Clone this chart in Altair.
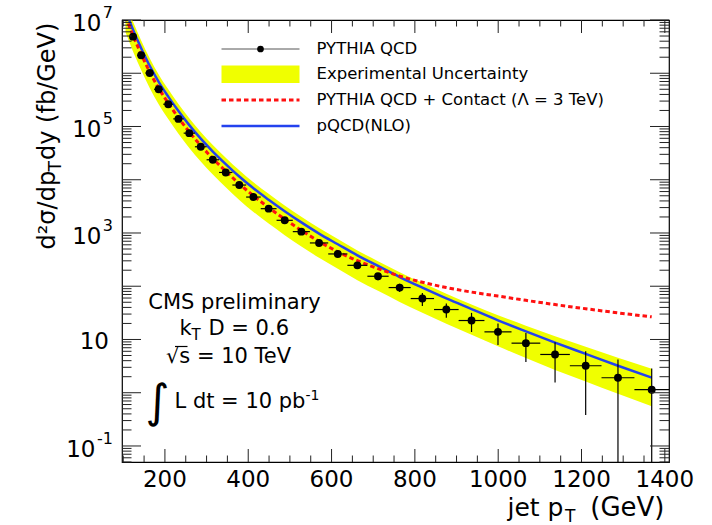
import altair as alt
import numpy as np
import pandas as pd

FONT = "DejaVu Sans"
YELLOW = "#f0ff00"
RED = "#ff1010"
BLUE = "#2442ee"

# Jet pT bins (GeV) and bin centres
bin_lo = [97, 114, 133, 153, 174, 196, 220, 245, 272, 300, 330, 362, 395, 430, 468,
          507, 548, 592, 638, 686, 737, 790, 846, 905, 967, 1032, 1101, 1172, 1248, 1327]
bin_hi = [114, 133, 153, 174, 196, 220, 245, 272, 300, 330, 362, 395, 430, 468, 507,
          548, 592, 638, 686, 737, 790, 846, 905, 967, 1032, 1101, 1172, 1248, 1327, 1410]
pt = [105.5, 123.5, 143, 163.5, 185, 208, 232.5, 258.5, 286, 315, 346, 378.5, 412.5, 449,
      487.5, 527.5, 570, 615, 662, 711.5, 763.5, 818, 875.5, 936, 999.5, 1066.5, 1136.5,
      1210, 1287.5, 1368.5]

# PYTHIA QCD cross section (fb/GeV) with statistical errors
pythia = [1.12e7, 4.87e6, 2.18e6, 1.01e6, 5.0e5, 2.62e5, 1.39e5, 7.5e4, 4.16e4, 2.37e4,
          1.37e4, 7.95e3, 4.73e3, 2.86e3, 1.73e3, 1.06e3, 650, 404, 247, 154,
          94.4, 58.7, 36.5, 22.7, 13.9, 8.53, 5.23, 3.21, 1.91, 1.14]
pythia_err = [2.2e5, 9.7e4, 4.4e4, 2.0e4, 1.0e4, 5.2e3, 2.8e3, 1.5e3, 830, 470,
              270, 200, 140, 110, 80, 60, 45, 32, 22, 24,
              16.6, 16, 10.8, 8.9, 6.0, 4.77, 3.67, 2.83, 2.29, 1.72]

# Experimental uncertainty band
band_hi = [2.13e7, 9.25e6, 4.14e6, 1.92e6, 9.5e5, 4.98e5, 2.64e5, 1.43e5, 7.9e4, 4.5e4,
           2.6e4, 1.51e4, 8.99e3, 5.43e3, 3.29e3, 2.01e3, 1.24e3, 768, 469, 296,
           184, 116, 72.6, 45.6, 28.6, 18.2, 11.5, 7.32, 4.53, 2.82]
band_lo = [5.9e6, 2.56e6, 1.15e6, 5.3e5, 2.63e5, 1.38e5, 7.3e4, 3.95e4, 2.19e4, 1.25e4,
           7.2e3, 4.18e3, 2.49e3, 1.5e3, 910, 558, 342, 213, 130, 82,
           50.8, 31.7, 19.8, 12.3, 7.43, 4.47, 2.68, 1.62, 0.955, 0.56]

# PYTHIA QCD + contact interaction (Lambda = 3 TeV)
contact = [1.17e7, 5.1e6, 2.29e6, 1.06e6, 5.25e5, 2.75e5, 1.46e5, 7.9e4, 4.4e4, 2.5e4,
           1.45e4, 8.4e3, 5.0e3, 3.0e3, 1.82e3, 1.12e3, 695, 444, 302, 214,
           155, 119, 94.4, 77.6, 65.3, 54.3, 45.2, 37.8, 31.6, 26.6]

# NLO pQCD prediction
nlo = [1.5e7, 6.57e6, 2.96e6, 1.38e6, 6.9e5, 3.64e5, 1.95e5, 1.06e5, 5.9e4, 3.39e4,
       1.97e4, 1.15e4, 6.9e3, 4.2e3, 2.56e3, 1.58e3, 975, 614, 380, 240,
       149, 94, 59, 37.2, 22.9, 14.2, 8.73, 5.36, 3.21, 1.92]

# Axis ticks
x_major = [200, 400, 600, 800, 1000, 1200, 1400]
x_minor = [100, 150, 250, 300, 350, 450, 500, 550, 650, 700, 750, 850, 900, 950,
           1050, 1100, 1150, 1250, 1300, 1350]
y_decades = [0.1, 1, 10, 100, 1e3, 1e4, 1e5, 1e6, 1e7]
y_labels = [1e7, 1e5, 1e3, 10, 0.1]
y_label_exp = ["7", "5", "3", "", "-1"]

Y_MIN, Y_MAX = 0.05, 1e7
W, H = 547, 442

y_minor = [m * 10.0 ** k for k in range(-2, 7) for m in range(2, 10)
           if Y_MIN <= m * 10.0 ** k <= Y_MAX]

xs = alt.Scale(domain=[97, 1410], nice=False, zero=False)
ys = alt.Scale(type="log", domain=[Y_MIN, Y_MAX], nice=False)


def X(field):
    return alt.X(field, type="quantitative", scale=xs, axis=None)


def Y(field):
    return alt.Y(field, type="quantitative", scale=ys, axis=None)


df = pd.DataFrame({
    "pt": pt, "lo": bin_lo, "hi": bin_hi,
    "pythia": pythia, "err": pythia_err,
    "band_lo": band_lo, "band_hi": band_hi,
    "contact": contact, "nlo": nlo,
})
df["y_top"] = df["pythia"] + df["err"]
df["y_bot"] = np.maximum(df["pythia"] - df["err"], Y_MIN)

one = pd.DataFrame({"k": [0]})

layers = []

# uncertainty band and curves
layers.append(alt.Chart(df).mark_area(color=YELLOW, opacity=1, clip=True, interpolate="monotone")
              .encode(x=X("pt"), y=Y("band_lo"), y2=alt.Y2("band_hi")))
layers.append(alt.Chart(df).mark_line(color=BLUE, strokeWidth=2.5, clip=True, interpolate="monotone")
              .encode(x=X("pt"), y=Y("nlo")))
layers.append(alt.Chart(df).mark_line(color=RED, strokeWidth=3, strokeDash=[4.5, 3], clip=True,
                                      interpolate="monotone")
              .encode(x=X("pt"), y=Y("contact")))

# PYTHIA points with error bars
layers.append(alt.Chart(df).mark_rule(color="black", strokeWidth=1.2, clip=True)
              .encode(x=X("pt"), y=Y("y_bot"), y2=alt.Y2("y_top")))
layers.append(alt.Chart(df).mark_rule(color="black", strokeWidth=1.2, clip=True)
              .encode(x=X("lo"), x2=alt.X2("hi"), y=Y("pythia")))
layers.append(alt.Chart(df).mark_circle(color="black", size=62, opacity=1, clip=True)
              .encode(x=X("pt"), y=Y("pythia")))

# inward ticks on all four sides
TICK = "#222222"
xmaj = pd.DataFrame({"t": x_major})
xmin = pd.DataFrame({"t": x_minor})
for d, ln in ((xmaj, 13), (xmin, 6.5)):
    layers.append(alt.Chart(d).mark_rule(color=TICK, strokeWidth=1)
                  .encode(x=X("t"), y=alt.value(H), y2=alt.value(H - ln)))
    layers.append(alt.Chart(d).mark_rule(color=TICK, strokeWidth=1)
                  .encode(x=X("t"), y=alt.value(0), y2=alt.value(ln)))
ymaj = pd.DataFrame({"t": y_decades})
ymin = pd.DataFrame({"t": y_minor})
for d, ln in ((ymaj, 19), (ymin, 9.5)):
    layers.append(alt.Chart(d).mark_rule(color=TICK, strokeWidth=1)
                  .encode(y=Y("t"), x=alt.value(0), x2=alt.value(ln)))
    layers.append(alt.Chart(d).mark_rule(color=TICK, strokeWidth=1)
                  .encode(y=Y("t"), x=alt.value(W), x2=alt.value(W - ln)))

# x tick labels
xl = pd.DataFrame({"t": x_major, "s": [str(v) for v in x_major]})
layers.append(alt.Chart(xl).mark_text(font=FONT, fontSize=23, align="center", baseline="alphabetic",
                                      color="black")
              .encode(x=X("t"), y=alt.value(467), text="s:N"))

# y tick labels: "10" with a raised exponent
for val, ex in zip(y_labels, y_label_exp):
    d = pd.DataFrame({"t": [val]})
    if ex:
        ex_w = 10.5 if len(ex) == 1 else 16.5
        layers.append(alt.Chart(d).mark_text(text=ex, font=FONT, fontSize=16, align="right",
                                             baseline="middle", dy=-7, color="black")
                      .encode(y=Y("t"), x=alt.value(-9)))
        layers.append(alt.Chart(d).mark_text(text="10", font=FONT, fontSize=23, align="right",
                                             baseline="middle", dy=4, color="black")
                      .encode(y=Y("t"), x=alt.value(-10 - ex_w)))
    else:
        layers.append(alt.Chart(d).mark_text(text="10", font=FONT, fontSize=23, align="right",
                                             baseline="middle", dy=3, color="black")
                      .encode(y=Y("t"), x=alt.value(-13)))


def label(text, x, y, size, align="left", baseline="alphabetic", angle=0):
    return (alt.Chart(one)
            .mark_text(text=text, font=FONT, fontSize=size, align=align, baseline=baseline,
                       angle=angle, color="black")
            .encode(x=alt.value(x), y=alt.value(y)))


# axis titles
layers.append(label("jet p", 441.5, 496, 25, align="right"))
layers.append(label("T", 443, 502, 17))
layers.append(label("(GeV)", 542.5, 496, 26, align="right"))

layers.append(label("d\u00b2\u03c3/dp", -67.5, 229.5, 24, angle=270))
layers.append(label("T", -61.5, 151.5, 17, angle=270))
layers.append(label(" dy (fb/GeV)", -67.5, 140, 24, angle=270))

# legend
lx0, lx1 = 99.5, 177.5
layers.append(alt.Chart(one).mark_rule(color="#555555", strokeWidth=1)
              .encode(x=alt.value(lx0), x2=alt.value(lx1), y=alt.value(29)))
layers.append(alt.Chart(one).mark_circle(color="black", size=45, opacity=1)
              .encode(x=alt.value(138.5), y=alt.value(29)))
layers.append(alt.Chart(one).mark_rect(color=YELLOW)
              .encode(x=alt.value(lx0), x2=alt.value(lx1), y=alt.value(45.5), y2=alt.value(63)))
layers.append(alt.Chart(one).mark_rule(color=RED, strokeWidth=3, strokeDash=[4.5, 3])
              .encode(x=alt.value(lx0), x2=alt.value(lx1), y=alt.value(80)))
layers.append(alt.Chart(one).mark_rule(color=BLUE, strokeWidth=2.5)
              .encode(x=alt.value(lx0), x2=alt.value(lx1), y=alt.value(106)))
legend_labels = ["PYTHIA QCD", "Experimental Uncertainty",
                 "PYTHIA QCD + Contact (\u039b = 3 TeV)", "pQCD(NLO)"]
for txt, ly in zip(legend_labels, [29, 53.5, 80, 106]):
    layers.append(label(txt, 194.5, ly, 16.5, baseline="middle"))

# annotation block
layers.append(label("CMS preliminary", 112.5, 289, 21, align="center"))
layers.append(label("k", 57.5, 315, 21))
layers.append(label("T", 69.5, 320, 15))
layers.append(label("D = 0.6", 86.5, 315, 21))
layers.append(label("\u221as = 10 TeV", 106.5, 343, 21, align="center"))
# overline of the square root
layers.append(alt.Chart(one).mark_rule(color="black", strokeWidth=1.2)
              .encode(x=alt.value(53), x2=alt.value(65.5), y=alt.value(326.5)))
layers.append(label("\u222b", 35.5, 383, 46, align="center", baseline="middle"))
layers.append(label("L dt = 10 pb", 52.5, 388, 21))
layers.append(label("-1", 183.5, 380, 14))

chart = (alt.layer(*layers)
         .properties(width=W, height=H,
                     padding={"left": 122, "top": 20, "right": 43, "bottom": 63},
                     autosize=alt.AutoSizeParams(type="none"),
                     background="white")
         .configure_view(stroke="black", strokeWidth=1.2))

chart.save("out.html", embed_options={"renderer": "svg", "actions": False})
